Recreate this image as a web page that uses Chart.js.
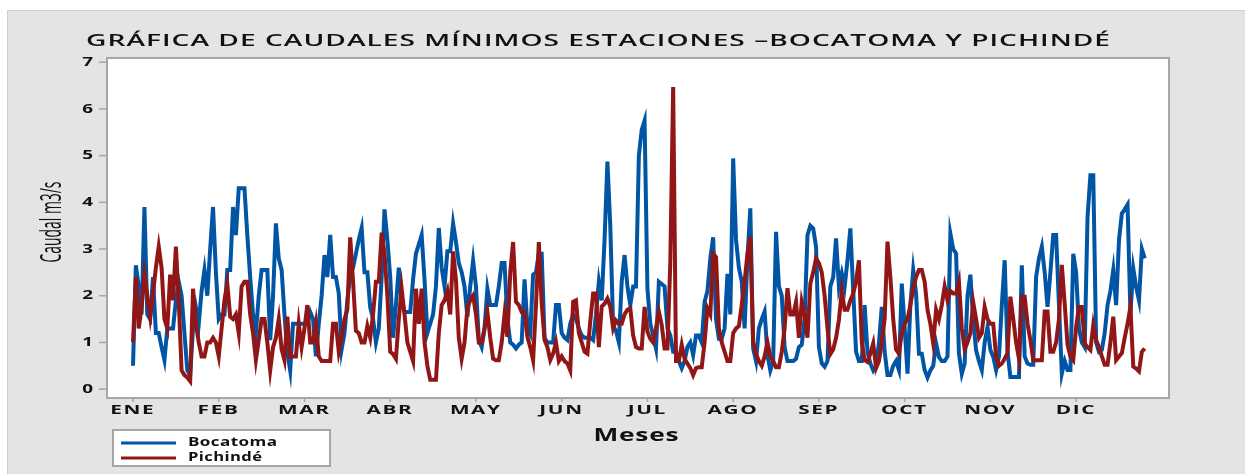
<!DOCTYPE html>
<html>
<head>
<meta charset="utf-8">
<script src="https://cdn.jsdelivr.net/npm/chart.js@4.4.1/dist/chart.umd.min.js"></script>
<style>
  html, body { margin: 0; padding: 0; background: #fff; }
  #wrap { width: 1245px; height: 474px; }
</style>
</head>
<body>
<div id="wrap"><canvas id="caudales" width="1245" height="474"></canvas></div>
<script>
// daily minimum flows (m3/s), one value per day starting 1 Jan
const bocatoma = [
  0.5,2.65,2.2,1.6,3.9,1.6,1.5,2.4,1.2,1.2,0.9,0.62,1.3,1.3,1.3,1.9,2.3,2.0,1.2,0.4,0.3,1.3,1.75,1.4,2.1,2.55,2.0,3.0,3.9,2.5,
  1.5,1.6,1.6,2.55,2.55,3.9,3.3,4.3,4.3,4.3,3.3,2.4,1.6,1.2,2.0,2.55,2.55,2.55,1.05,2.0,3.55,2.8,2.55,1.6,0.8,0.4,1.4,1.4,1.4,
  1.4,1.4,1.4,1.65,1.5,0.7,1.4,2.0,2.87,2.4,3.3,2.4,2.4,2.05,0.85,1.2,1.9,2.45,2.6,2.9,3.2,3.45,2.5,2.5,1.75,1.5,1.0,1.3,2.4,3.85,
  3.2,2.4,1.1,1.8,2.6,1.9,1.65,1.65,1.65,2.35,2.9,3.1,3.3,2.35,1.2,1.4,1.6,2.2,3.45,2.6,2.2,2.95,2.95,3.55,3.15,2.7,2.5,2.2,1.55,2.2,2.75,2.2,
  1.05,0.9,1.3,2.15,1.8,1.8,1.8,2.2,2.7,2.7,1.5,1.0,0.95,0.87,0.95,1.0,2.35,1.35,1.2,2.45,2.5,2.9,2.9,1.1,1.0,1.0,1.0,1.8,1.8,1.2,
  1.1,1.05,1.4,1.6,1.5,1.3,1.15,1.1,1.1,1.1,1.05,1.6,2.3,1.9,3.2,4.87,3.5,1.35,1.25,1.0,2.3,2.87,2.2,
  1.8,2.2,2.2,5.0,5.55,5.75,2.15,1.4,1.15,0.87,
  2.3,2.25,2.2,1.3,1.15,0.8,0.8,0.6,0.45,0.6,0.9,1.0,0.73,1.15,1.15,1.0,1.87,2.1,2.8,3.25,1.5,1.08,1.08,1.3,2.47,1.6,4.94,3.2,2.6,2.3,
  1.3,2.8,3.87,0.87,0.6,1.3,1.5,1.66,0.73,0.4,0.6,3.37,2.2,2.0,0.9,0.6,0.6,0.6,0.65,0.9,0.95,1.5,3.3,3.5,
  3.44,3.05,0.9,0.55,0.48,0.6,2.2,2.4,3.23,2.19,2.48,2.19,2.76,3.44,2.12,0.8,0.6,0.6,1.8,0.8,0.55,0.4,0.5,0.98,1.76,0.8,0.3,0.3,0.5,0.6,
  0.41,2.26,1.33,0.33,1.8,2.55,2.05,0.76,0.76,0.41,0.25,0.4,0.5,0.98,0.69,0.6,0.6,0.7,3.33,3.0,2.9,0.76,0.33,0.55,2.0,2.45,1.48,0.83,0.6,0.41,
  1.0,1.33,0.84,0.69,0.41,0.7,1.8,2.76,0.8,0.26,0.26,0.26,0.26,2.65,0.7,0.55,0.52,0.52,2.4,2.8,3.05,2.5,1.76,2.5,3.3,3.3,1.8,0.33,0.6,0.41,
  0.41,2.9,2.5,1.3,1.0,0.9,3.69,4.58,4.58,1.0,0.8,0.84,1.2,1.8,2.1,2.55,1.8,3.19,3.76,3.85,3.95,1.62,2.58,2.19,1.9,3.0,2.8
];

const pichinde = [
  1.0,2.4,1.3,1.75,2.45,2.0,1.55,2.05,2.6,3.05,2.6,1.5,1.3,2.45,1.9,3.05,1.9,0.4,0.3,0.25,0.17,2.15,1.4,1.0,0.7,0.7,1.0,1.0,1.1,1.0,
  0.7,1.3,1.9,2.25,1.55,1.5,1.6,1.2,2.2,2.3,2.3,1.6,1.2,0.62,1.05,1.5,1.5,1.0,0.4,0.9,1.1,1.5,0.85,0.62,1.55,0.7,0.7,0.7,1.4,
  0.9,1.3,1.8,1.0,1.0,1.4,0.7,0.6,0.6,0.6,0.6,1.4,1.4,0.8,1.1,1.5,1.7,3.25,2.3,1.25,1.2,1.0,1.0,1.35,1.1,1.6,2.3,2.3,3.35,2.9,
  2.0,0.8,0.75,0.65,1.5,2.15,1.6,1.0,0.8,0.6,2.15,1.4,2.15,1.0,0.5,0.2,0.2,0.2,1.2,1.8,1.9,2.1,1.6,2.95,2.35,1.1,0.65,1.0,1.75,1.9,2.0,1.6,
  1.0,1.0,1.3,1.65,1.1,0.65,0.62,0.62,1.0,1.6,1.12,2.5,3.15,1.87,1.8,1.65,1.65,1.12,0.9,0.62,1.8,3.15,1.83,1.05,0.9,0.62,0.76,1.0,0.6,0.7,
  0.6,0.55,0.4,1.87,1.9,1.2,1.0,0.8,0.76,1.45,2.05,2.05,0.9,1.77,1.83,1.94,1.77,1.3,1.47,1.4,1.4,1.6,1.7,
  1.73,1.15,0.9,0.87,0.87,1.76,1.23,1.08,1.0,1.3,
  1.66,1.37,0.87,0.87,2.7,6.47,0.6,0.6,0.95,0.65,0.55,0.45,0.3,0.45,0.47,0.47,1.0,1.73,1.6,2.9,2.83,1.3,1.0,0.8,0.6,0.6,1.2,1.3,1.35,1.8,
  2.3,2.9,3.26,1.0,0.75,0.6,0.5,0.7,1.0,0.7,0.6,0.47,0.47,0.8,1.3,2.16,1.6,1.6,1.87,1.1,1.87,1.6,1.1,2.26,
  2.5,2.8,2.7,2.5,2.0,1.3,0.75,0.85,1.1,1.48,2.1,1.7,1.7,1.9,2.05,2.3,2.76,1.0,0.62,0.58,0.76,0.98,0.45,0.6,1.0,1.5,3.16,2.4,1.5,0.85,
  0.76,1.2,1.4,1.5,1.8,2.15,2.4,2.55,2.55,2.3,1.7,1.4,0.98,1.7,1.5,1.8,2.2,1.9,2.1,2.05,2.05,2.3,1.3,0.85,1.0,1.2,1.86,1.5,1.1,1.2,1.76,
  1.5,1.4,1.4,0.7,0.5,0.55,0.65,0.77,1.98,1.5,1.0,0.65,1.98,1.98,1.4,1.05,0.62,0.62,0.62,0.62,1.66,1.66,0.8,0.8,1.0,1.5,2.66,1.83,0.95,0.7,
  0.62,1.33,1.76,1.76,0.98,0.9,0.84,1.37,1.05,0.9,0.7,0.52,0.52,1.0,1.55,0.62,0.7,0.77,1.1,1.4,1.76,0.48,0.44,0.38,0.8,0.87
];

const months = ['ENE', 'FEB', 'MAR', 'ABR', 'MAY', 'JUN', 'JUL', 'AGO', 'SEP', 'OCT', 'NOV', 'DIC'];
const yTicks = [0, 1, 2, 3, 4, 5, 6, 7];
const daysPerTick = 30;

const BLUE = '#0055a5';
const RED = '#931616';
const FONT = '"Open Sans", "DejaVu Sans", sans-serif';

// draws text squeezed or widened horizontally, the way the export stretched it
function wideText(ctx, text, x, y, o) {
  ctx.save();
  ctx.font = o.font;
  const sp = o.spacing || 0;
  ctx.letterSpacing = sp + 'px';
  const w = ctx.measureText(text).width - sp;
  const sx = o.width ? o.width / w : (o.sx || 1);
  ctx.translate(x, y);
  if (o.rotate) ctx.rotate(o.rotate);
  ctx.scale(sx, 1);
  ctx.textAlign = 'left';
  ctx.textBaseline = o.baseline || 'middle';
  ctx.fillStyle = o.color || '#111';
  let dx = 0;
  if (o.align === 'center') dx = -w / 2;
  else if (o.align === 'right') dx = -w;
  ctx.fillText(text, dx, 0);
  ctx.restore();
}

const decorations = {
  id: 'decorations',
  beforeDraw(chart) {
    const { ctx, chartArea: a } = chart;
    ctx.save();
    ctx.fillStyle = '#ffffff';
    ctx.fillRect(0, 0, chart.width, chart.height);
    ctx.fillStyle = '#e4e4e4';
    ctx.fillRect(7, 10, chart.width - 7, chart.height - 10);
    ctx.strokeStyle = '#cfcfcf';
    ctx.lineWidth = 1;
    ctx.beginPath();
    ctx.moveTo(7.5, chart.height);
    ctx.lineTo(7.5, 10.5);
    ctx.lineTo(chart.width, 10.5);
    ctx.stroke();
    ctx.fillStyle = '#ffffff';
    ctx.fillRect(a.left, a.top, a.right - a.left, a.bottom - a.top);
    ctx.restore();
  },
  afterDatasetsDraw(chart) {
    const { ctx, chartArea: a, scales } = chart;
    const x = scales.x, y = scales.y;
    ctx.save();

    // plot frame
    ctx.strokeStyle = '#a6a6a6';
    ctx.lineWidth = 2;
    ctx.strokeRect(a.left, a.top, a.right - a.left, a.bottom - a.top);

    // y ticks
    ctx.strokeStyle = '#a6a6a6';
    ctx.lineWidth = 1.5;
    y.ticks.forEach(t => {
      const py = y.getPixelForValue(t.value);
      ctx.beginPath();
      ctx.moveTo(a.left - 8, py);
      ctx.lineTo(a.left, py);
      ctx.stroke();
      wideText(ctx, String(t.value), 93, py, { font: 'bold 13px ' + FONT, sx: 1.45, align: 'right' });
    });

    // x ticks with month names
    x.ticks.forEach(t => {
      const px = x.getPixelForValue(t.value);
      ctx.beginPath();
      ctx.moveTo(px, a.bottom);
      ctx.lineTo(px, a.bottom + 4);
      ctx.stroke();
      const name = months[Math.round(t.value / daysPerTick)];
      wideText(ctx, name, px - 1, 414, { font: 'bold 13px ' + FONT, sx: 1.6, spacing: 1, align: 'center', baseline: 'alphabetic' });
    });

    // axis titles
    wideText(ctx, 'Meses', 636, 441, { font: 'bold 17px ' + FONT, width: 85, spacing: 0.5, align: 'center', baseline: 'alphabetic' });
    wideText(ctx, 'Caudal m3/s', 61, 222, { font: '29px ' + FONT, width: 81, align: 'center', baseline: 'alphabetic', rotate: -Math.PI / 2 });

    // title
    wideText(ctx, 'GRÁFICA DE CAUDALES MÍNIMOS ESTACIONES –BOCATOMA Y PICHINDÉ', 86, 46,
      { font: '600 16.5px ' + FONT, width: 1024, spacing: 0.6, baseline: 'alphabetic' });

    // legend
    ctx.fillStyle = '#ffffff';
    ctx.fillRect(113, 430, 217, 36);
    ctx.strokeStyle = '#a6a6a6';
    ctx.lineWidth = 2;
    ctx.strokeRect(113, 430, 217, 36);
    const items = [
      { label: 'Bocatoma', color: BLUE, y: 443, w: 89 },
      { label: 'Pichindé', color: RED, y: 458, w: 74 }
    ];
    items.forEach(it => {
      ctx.strokeStyle = it.color;
      ctx.lineWidth = 3;
      ctx.beginPath();
      ctx.moveTo(121, it.y);
      ctx.lineTo(176, it.y);
      ctx.stroke();
      wideText(ctx, it.label, 188, it.y - 1, { font: 'bold 12.5px ' + FONT, width: it.w, spacing: 0.3 });
    });

    ctx.restore();
  }
};

const ctx = document.getElementById('caudales').getContext('2d');
new Chart(ctx, {
  type: 'line',
  data: {
    datasets: [
      {
        label: 'Bocatoma',
        data: bocatoma.map((v, i) => ({ x: i, y: v })),
        borderColor: BLUE,
        borderWidth: 4,
        pointRadius: 0,
        tension: 0,
        order: 2
      },
      {
        label: 'Pichindé',
        data: pichinde.map((v, i) => ({ x: i, y: v })),
        borderColor: RED,
        borderWidth: 4,
        pointRadius: 0,
        tension: 0,
        order: 1
      }
    ]
  },
  options: {
    responsive: false,
    animation: false,
    devicePixelRatio: 1,
    layout: { padding: { left: 107, right: 76, top: 58, bottom: 76 } },
    scales: {
      x: {
        type: 'linear',
        display: false,
        min: -9.1,
        max: 362.5,
        afterBuildTicks(axis) {
          axis.ticks = months.map((m, i) => ({ value: i * daysPerTick }));
        }
      },
      y: {
        type: 'linear',
        display: false,
        min: -0.19,
        max: 7.09,
        afterBuildTicks(axis) {
          axis.ticks = yTicks.map(v => ({ value: v }));
        }
      }
    },
    plugins: {
      legend: { display: false },
      tooltip: { enabled: false }
    }
  },
  plugins: [decorations]
});
</script>
</body>
</html>
